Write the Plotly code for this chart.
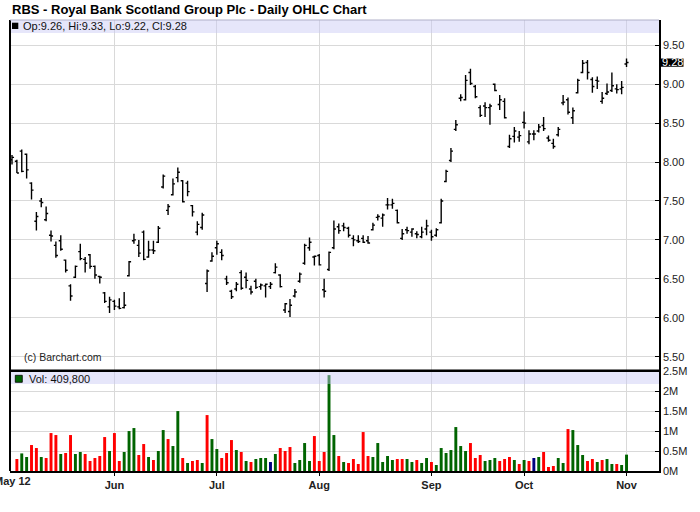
import pandas as pd
import plotly.graph_objects as go

# ---------------- data ----------------
holidays = ["2012-05-28", "2012-07-04", "2012-09-03", "2012-10-29", "2012-10-30"]
dates = [d for d in pd.bdate_range("2012-05-02", "2012-11-01")
         if d.strftime("%Y-%m-%d") not in holidays]

open_ = [8.03, 8.01, 8.14, 8.10, 7.73, 7.24, 7.50, 7.26, 7.06, 6.93,
         6.99, 6.74, 6.41, 6.52, 6.85, 6.75, 6.81, 6.66, 6.53, 6.32,
         6.14, 6.21, 6.14, 6.13, 6.54, 6.99, 6.93, 7.10, 6.78, 6.87,
         6.97, 7.68, 7.38, 7.58, 7.80, 7.76, 7.73, 7.44, 7.10, 7.16,
         6.44, 6.73, 6.90, 6.84, 6.50, 6.34, 6.37, 6.58, 6.52, 6.37,
         6.47, 6.40, 6.41, 6.40, 6.58, 6.55, 6.10, 6.08, 6.28, 6.47,
         6.70, 6.90, 6.78, 6.80, 6.36, 6.62, 6.90, 7.17, 7.18, 7.15,
         7.02, 6.99, 7.02, 6.99, 7.13, 7.29, 7.28, 7.45, 7.45, 7.38,
         7.02, 7.13, 7.10, 7.08, 7.04, 7.14, 7.10, 7.06, 7.22, 7.75,
         8.02, 8.42, 8.82, 8.80, 9.15, 8.97, 8.70, 8.72, 8.70, 9.00,
         8.74, 8.78, 8.20, 8.33, 8.32, 8.51, 8.26, 8.36, 8.40, 8.47,
         8.31, 8.24, 8.35, 8.76, 8.80, 8.57, 8.89, 9.15, 9.28, 9.06,
         9.05, 8.78, 8.88, 8.92, 8.94, 8.94, 9.26]
high = [8.09, 8.03, 8.16, 8.11, 7.74, 7.36, 7.54, 7.43, 7.12, 6.98,
        7.06, 6.75, 6.43, 6.67, 6.95, 6.78, 6.82, 6.67, 6.54, 6.33,
        6.27, 6.23, 6.25, 6.33, 6.73, 7.08, 7.00, 7.12, 6.99, 6.99,
        7.18, 7.84, 7.46, 7.79, 7.93, 7.77, 7.76, 7.45, 7.24, 7.35,
        6.62, 6.84, 6.99, 6.88, 6.54, 6.36, 6.46, 6.61, 6.58, 6.41,
        6.50, 6.44, 6.44, 6.46, 6.70, 6.56, 6.19, 6.24, 6.37, 6.58,
        6.95, 7.03, 6.80, 6.82, 6.50, 6.85, 7.25, 7.21, 7.22, 7.17,
        7.06, 7.06, 7.06, 7.05, 7.22, 7.33, 7.34, 7.54, 7.53, 7.39,
        7.14, 7.17, 7.15, 7.11, 7.17, 7.26, 7.13, 7.15, 7.53, 7.90,
        8.18, 8.54, 8.87, 9.12, 9.20, 8.99, 8.73, 8.77, 8.75, 9.01,
        8.86, 8.82, 8.35, 8.45, 8.40, 8.65, 8.41, 8.41, 8.49, 8.58,
        8.34, 8.30, 8.45, 8.86, 8.83, 8.70, 9.07, 9.31, 9.31, 9.09,
        9.10, 8.90, 9.01, 9.15, 9.00, 9.04, 9.33]
low = [7.97, 7.86, 7.87, 7.79, 7.52, 7.12, 7.42, 7.24, 6.98, 6.77,
       6.86, 6.58, 6.22, 6.51, 6.74, 6.58, 6.63, 6.50, 6.44, 6.19,
       6.06, 6.10, 6.11, 6.12, 6.53, 6.95, 6.78, 6.74, 6.77, 6.82,
       6.96, 7.66, 7.32, 7.57, 7.74, 7.48, 7.56, 7.30, 7.06, 7.13,
       6.33, 6.72, 6.81, 6.74, 6.42, 6.24, 6.34, 6.36, 6.38, 6.30,
       6.37, 6.36, 6.26, 6.37, 6.57, 6.39, 6.06, 6.01, 6.26, 6.45,
       6.68, 6.86, 6.67, 6.67, 6.26, 6.60, 6.88, 7.08, 7.11, 7.03,
       6.92, 6.96, 6.96, 6.95, 7.12, 7.25, 7.17, 7.39, 7.40, 7.21,
       7.00, 7.08, 7.04, 7.02, 7.02, 7.06, 6.99, 7.04, 7.21, 7.74,
       8.00, 8.40, 8.78, 8.79, 8.99, 8.82, 8.58, 8.58, 8.48, 8.91,
       8.67, 8.56, 8.18, 8.25, 8.26, 8.43, 8.23, 8.28, 8.38, 8.40,
       8.26, 8.17, 8.33, 8.73, 8.61, 8.49, 8.88, 9.14, 9.06, 8.89,
       8.94, 8.75, 8.86, 8.90, 8.88, 8.87, 9.22]
close = [8.06, 7.86, 7.88, 7.90, 7.64, 7.30, 7.48, 7.34, 7.05, 6.80,
         6.88, 6.61, 6.28, 6.66, 6.76, 6.70, 6.66, 6.55, 6.52, 6.21,
         6.23, 6.15, 6.12, 6.16, 6.72, 7.00, 6.83, 6.75, 6.87, 6.86,
         7.15, 7.82, 7.43, 7.72, 7.87, 7.49, 7.62, 7.36, 7.20, 7.32,
         6.60, 6.79, 6.95, 6.80, 6.45, 6.27, 6.43, 6.38, 6.48, 6.33,
         6.39, 6.42, 6.43, 6.43, 6.65, 6.40, 6.18, 6.16, 6.33, 6.56,
         6.93, 6.97, 6.79, 6.68, 6.34, 6.84, 7.14, 7.12, 7.16, 7.06,
         7.00, 6.98, 6.97, 6.96, 7.19, 7.30, 7.32, 7.45, 7.47, 7.22,
         7.08, 7.12, 7.14, 7.07, 7.10, 7.18, 7.04, 7.13, 7.50, 7.88,
         8.14, 8.48, 8.83, 9.05, 9.01, 8.84, 8.60, 8.70, 8.72, 8.92,
         8.80, 8.57, 8.30, 8.40, 8.34, 8.50, 8.36, 8.36, 8.45, 8.43,
         8.28, 8.20, 8.42, 8.77, 8.64, 8.66, 9.05, 9.27, 9.15, 8.97,
         9.04, 8.82, 8.90, 8.98, 8.93, 8.96, 9.28]
# first day's volume bar is not visible in the reference (hidden at the axis)
volume = [None, 300000, 440000, 350000, 650000, 575000, 350000, 325000, 950000, 900000,
          425000, 450000, 900000, 425000, 475000, 425000, 250000, 325000, 375000, 850000,
          500000, 950000, 250000, 475000, 1000000, 1075000, 400000, 675000, 350000, 275000,
          500000, 1025000, 800000, 625000, 1500000, 325000, 200000, 250000, 275000, 200000,
          1400000, 800000, 550000, 325000, 450000, 775000, 525000, 475000, 250000, 225000,
          300000, 325000, 325000, 225000, 425000, 575000, 500000, 600000, 200000, 275000,
          700000, 250000, 875000, 250000, 475000, 2400000, 900000, 375000, 225000, 200000,
          300000, 175000, 975000, 375000, 350000, 700000, 225000, 375000, 275000, 300000,
          300000, 300000, 225000, 275000, 200000, 325000, 225000, 150000, 575000, 450000,
          525000, 1100000, 625000, 500000, 700000, 325000, 400000, 250000, 275000, 325000,
          250000, 300000, 350000, 275000, 175000, 275000, 250000, 325000, 350000, 475000,
          100000, 125000, 325000, 200000, 1050000, 1025000, 650000, 400000, 250000, 300000,
          225000, 275000, 300000, 175000, 175000, 150000, 409800]

price_ticks = [5.5, 6.0, 6.5, 7.0, 7.5, 8.0, 8.5, 9.0, 9.5]
vol_ticks = [0, 500000, 1000000, 1500000, 2000000, 2500000]
vol_tick_text = ["0M", "0.5M", "1M", "1.5M", "2M", "2.5M"]

# ---------------- derived ----------------
x = list(range(len(dates)))
month_idx = [i for i in range(1, len(dates)) if dates[i].month != dates[i - 1].month]
month_txt = ["<b>%s</b>" % dates[i].strftime("%b") for i in month_idx]
first_label = "<b>%s</b>" % dates[0].strftime("%b %y")

GREEN, RED, NAVY = "#006400", "#ff0000", "#000080"
vol_colors = []
for i in range(len(close)):
    if i == 0 or round(close[i], 2) > round(close[i - 1], 2):
        vol_colors.append(GREEN)
    elif round(close[i], 2) < round(close[i - 1], 2):
        vol_colors.append(RED)
    else:
        vol_colors.append(NAVY)

FONT = "Liberation Sans, Arial, sans-serif"
W, H = 700, 512
L, R, T, B = 10, 41, 20, 41
plot_w = W - L - R
plot_h = H - T - B
vol_top = 100 / plot_h
price_bot = 100.3 / plot_h
band = 13 / plot_h

fig = go.Figure()
fig.add_trace(go.Ohlc(
    x=x, open=open_, high=high, low=low, close=close,
    increasing=dict(line=dict(color="black", width=1.4)),
    decreasing=dict(line=dict(color="black", width=1.4)),
    tickwidth=0.42, xaxis="x", yaxis="y", hoverinfo="skip", showlegend=False))
fig.add_trace(go.Bar(
    x=x, y=volume, marker=dict(color=vol_colors, line=dict(width=0)),
    width=0.6, xaxis="x2", yaxis="y2", hoverinfo="skip", showlegend=False))

grid = "#d9d9d9"
xr = [-0.41, 132.66]
fig.update_layout(
    width=W, height=H, margin=dict(l=L, r=R, t=T, b=B, autoexpand=False),
    paper_bgcolor="white", plot_bgcolor="white",
    font=dict(family=FONT, size=11, color="#222"),
    title=dict(text="<b>RBS - Royal Bank Scotland Group Plc - Daily OHLC Chart</b>",
               x=12 / W, xanchor="left", xref="container",
               y=1 - 9.5 / H, yanchor="middle", yref="container",
               font=dict(family=FONT, size=13, color="black")),
    xaxis=dict(domain=[0, 1], anchor="y", range=xr, tickvals=month_idx,
               showticklabels=False, ticks="", showgrid=True, gridcolor=grid,
               gridwidth=1, showline=False, zeroline=False,
               rangeslider=dict(visible=False)),
    xaxis2=dict(domain=[0, 1], anchor="y2", range=xr, matches="x",
                tickvals=month_idx, ticktext=month_txt, ticks="outside",
                ticklen=3, tickcolor="black", showgrid=True, gridcolor=grid,
                gridwidth=1, showline=True, linecolor="black", linewidth=2,
                zeroline=False, tickfont=dict(size=11, color="#222"),
                rangeslider=dict(visible=False)),
    yaxis=dict(domain=[price_bot, 1], anchor="x", side="right",
               range=[5.320, 9.825], tickvals=price_ticks, tickformat=".2f",
               ticks="inside", ticklen=4, tickcolor="black", showgrid=True,
               gridcolor=grid, gridwidth=1, showline=True, linecolor="black",
               linewidth=1.5, zeroline=False, tickfont=dict(size=11, color="#222")),
    yaxis2=dict(domain=[0, vol_top], anchor="x2", side="right",
                range=[0, 2503000], tickvals=vol_ticks, ticktext=vol_tick_text,
                ticks="inside", ticklen=4, tickcolor="black", showgrid=True,
                gridcolor=grid, gridwidth=1, showline=True, linecolor="black",
                linewidth=1.5, zeroline=False, tickfont=dict(size=11, color="#222")),
)

sep_y = (price_bot + vol_top) / 2
shapes = [
    # lavender header bands
    dict(type="rect", xref="paper", yref="paper", x0=0, x1=1, y0=1 - band, y1=1,
         fillcolor="rgba(200,200,245,0.45)", line=dict(width=0), layer="above"),
    dict(type="rect", xref="paper", yref="paper", x0=0, x1=1, y0=vol_top - band, y1=vol_top,
         fillcolor="rgba(200,200,245,0.45)", line=dict(width=0), layer="above"),
    # frame
    dict(type="line", xref="paper", yref="paper", x0=0, x1=0, y0=0, y1=1,
         line=dict(color="black", width=2), layer="above"),
    dict(type="line", xref="paper", yref="paper", x0=0, x1=1, y0=1, y1=1,
         line=dict(color="#b0b0c8", width=1), layer="above"),
    dict(type="line", xref="paper", yref="paper", x0=0, x1=1, y0=sep_y, y1=sep_y,
         line=dict(color="black", width=2.5), layer="above"),
    # legend squares
    dict(type="rect", xref="paper", yref="paper", x0=2 / plot_w, x1=8.3 / plot_w,
         y0=(plot_h - 9) / plot_h, y1=(plot_h - 2.7) / plot_h,
         fillcolor="black", line=dict(width=0), layer="above"),
    dict(type="rect", xref="paper", yref="paper", x0=5.3 / plot_w, x1=12.3 / plot_w,
         y0=(471 - 382.3) / plot_h, y1=(471 - 375.3) / plot_h,
         fillcolor=GREEN, line=dict(color="black", width=0.8), layer="above"),
    # last price marker box
    dict(type="rect", xref="paper", yref="y", x0=1.0, x1=(683.5 - L) / plot_w,
         y0=close[-1] - 0.056, y1=close[-1] + 0.052,
         fillcolor="black", line=dict(width=0), layer="above"),
]

last = len(close) - 1
annotations = [
    dict(text="Op:%.2f, Hi:%.2f, Lo:%.2f, Cl:%.2f" % (open_[last], high[last], low[last], close[last]),
         xref="paper", yref="paper", x=10.8 / plot_w, y=(471 - 26.2) / plot_h,
         xanchor="left", yanchor="middle", showarrow=False,
         font=dict(family=FONT, size=11, color="#111")),
    dict(text="Vol: {:,}".format(volume[last]),
         xref="paper", yref="paper", x=17.3 / plot_w, y=(471 - 378.6) / plot_h,
         xanchor="left", yanchor="middle", showarrow=False,
         font=dict(family=FONT, size=11, color="#111")),
    dict(text="(c) Barchart.com", xref="paper", yref="paper",
         x=12 / plot_w, y=(471 - 357) / plot_h, xanchor="left", yanchor="middle",
         showarrow=False, font=dict(family=FONT, size=10.5, color="#222")),
    dict(text="%.2f" % close[last], xref="paper", yref="y",
         x=(672.6 - L) / plot_w, y=close[last], xanchor="center", yanchor="middle",
         showarrow=False, font=dict(family=FONT, size=11, color="white")),
    dict(text=first_label, xref="x2", yref="paper", x=0, y=(471 - 481) / plot_h,
         xanchor="center", yanchor="middle", showarrow=False,
         font=dict(family=FONT, size=11, color="#222")),
]
fig.update_layout(shapes=shapes, annotations=annotations)

fig.write_html("out.html",
               config={"displayModeBar": False},
               post_script="document.body.style.margin='0px';"
                           "document.body.style.overflow='hidden';")
